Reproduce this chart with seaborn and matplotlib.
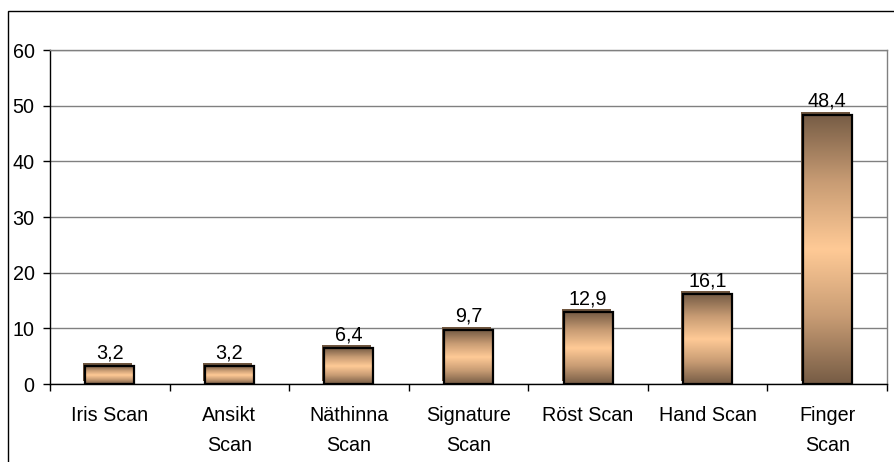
import numpy as np
import pandas as pd
import matplotlib
matplotlib.use("Agg")
import matplotlib.pyplot as plt
import matplotlib.transforms as mtransforms
from matplotlib.patches import Rectangle
from matplotlib.colors import LinearSegmentedColormap
import seaborn as sns

# Data
categories = ["Iris Scan", "Ansikt\nScan", "Näthinna\nScan", "Signature\nScan",
              "Röst Scan", "Hand Scan", "Finger\nScan"]
values = [3.2, 3.2, 6.4, 9.7, 12.9, 16.1, 48.4]
y_ticks = [0, 10, 20, 30, 40, 50, 60]

FS = 14.2

sns.set_theme(style="white")
plt.rcParams["font.family"] = ["Liberation Sans", "DejaVu Sans"]

W, H = 895, 462
fig = plt.figure(figsize=(W / 100, H / 100), dpi=100)
fig.patch.set_facecolor("white")
ax = fig.add_axes([50 / W, 1 - 384 / H, 837 / W, 334 / H])

df = pd.DataFrame({"category": categories, "value": values})
sns.barplot(data=df, x="category", y="value", order=categories, width=0.41,
            color="#c9a07a", saturation=1, edgecolor="black", linewidth=1.6,
            ax=ax, zorder=3)

# Vertical shading: dark brown at the ends, peach in the middle
shade = LinearSegmentedColormap.from_list(
    "bronze", ["#765c45", "#c89c74", "#ffca96", "#c89c74", "#765c45"])
grad = np.linspace(0, 1, 256).reshape(-1, 1)
shadow_off = mtransforms.ScaledTranslation(-2 / 100, 3 / 100, fig.dpi_scale_trans)

for patch, v in zip(ax.patches, values):
    x0, w = patch.get_x(), patch.get_width()
    h = patch.get_height()
    # offset shadow behind the bar
    ax.add_patch(Rectangle((x0, 0), w, h, facecolor="#6f563f", edgecolor="none",
                           transform=ax.transData + shadow_off, zorder=2.5))
    im = ax.imshow(grad, cmap=shade, extent=[x0, x0 + w, 0, h], aspect="auto",
                   origin="lower", zorder=3.1, interpolation="bilinear")
    im.set_clip_path(patch)
    patch.set_facecolor("none")
    patch.set_zorder(3.2)
    ax.annotate(f"{v:.1f}".replace(".", ","), (x0 + w / 2, h),
                xytext=(0, 3), textcoords="offset points",
                ha="center", va="bottom", fontsize=FS, color="black", zorder=4)

ax.set_xlim(-0.5, len(categories) - 0.5)
ax.set_ylim(0, 60)
ax.set_yticks(y_ticks)
ax.set_yticklabels([str(t) for t in y_ticks])
ax.set_xticks(range(len(categories)))
ax.set_xticklabels(categories, linespacing=1.75)
ax.set_xticks(np.arange(-0.5, len(categories), 1), minor=True)
ax.set_xlabel("")
ax.set_ylabel("")

ax.yaxis.grid(True, color="#808080", linewidth=1)
ax.xaxis.grid(False)
ax.set_axisbelow(True)

ax.tick_params(axis="y", which="major", left=True, length=5, width=1,
               color="black", direction="out", labelsize=FS, pad=6,
               labelcolor="black")
ax.tick_params(axis="x", which="major", bottom=False, length=0, labelsize=FS,
               pad=15.5, labelcolor="black")
ax.tick_params(axis="x", which="minor", bottom=True, length=5, width=1,
               color="black", direction="out")

for side in ("left", "bottom"):
    ax.spines[side].set_color("black")
    ax.spines[side].set_linewidth(1)
for side in ("top", "right"):
    ax.spines[side].set_color("#808080")
    ax.spines[side].set_linewidth(1)
    ax.spines[side].set_visible(True)

# Chart-area frame
fig.add_artist(Rectangle((8 / W, -0.2), 1.2, 1.2 - 11 / H,
                         transform=fig.transFigure, fill=False,
                         edgecolor="black", linewidth=1))

fig.savefig("out.png", dpi=100)
